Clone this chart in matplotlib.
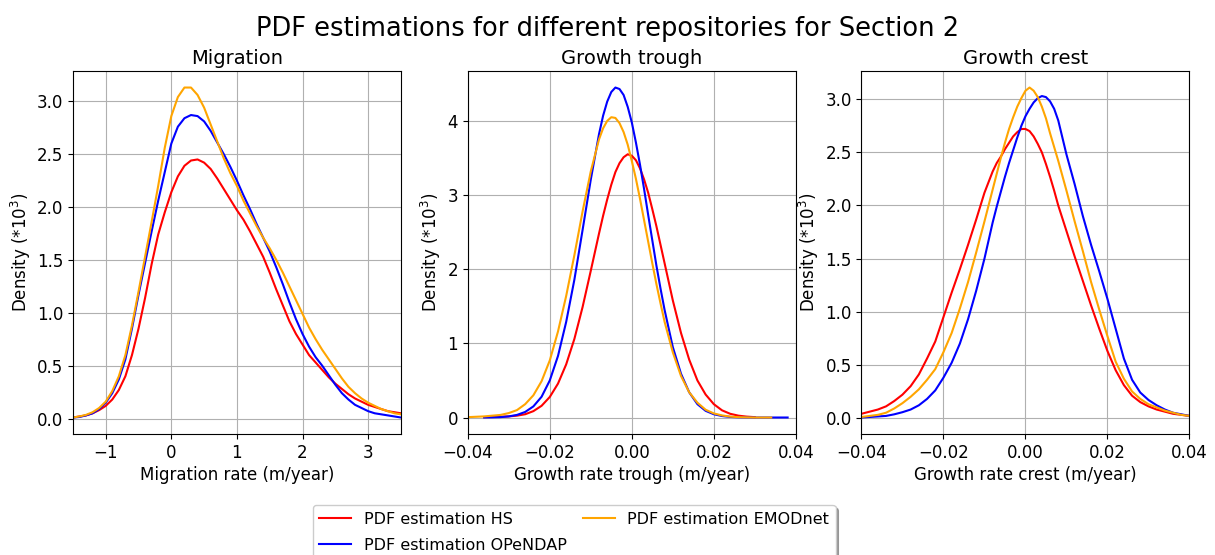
import numpy as np
import matplotlib
matplotlib.use('Agg')
import matplotlib.pyplot as plt

nan = np.nan

# Migration panel (m/year), sampled every 0.1
mig_x = np.round(np.arange(-1.5, 3.51, 0.1), 2)
mig_hs = [0.01, 0.02, 0.03, 0.05, 0.08, 0.12, 0.18, 0.27, 0.4, 0.6,
          0.85, 1.14, 1.46, 1.74, 1.95, 2.14, 2.29, 2.39, 2.44, 2.45,
          2.42, 2.36, 2.27, 2.17, 2.07, 1.97, 1.88, 1.77, 1.65, 1.53,
          1.38, 1.22, 1.07, 0.92, 0.8, 0.7, 0.6, 0.53, 0.46, 0.39,
          0.33, 0.28, 0.23, 0.19, 0.16, 0.13, 0.11, 0.09, 0.07, 0.06, 0.05]
mig_opendap = [0.01, 0.015, 0.03, 0.05, 0.09, 0.15, 0.24, 0.37, 0.56, 0.85,
               1.17, 1.47, 1.77, 2.06, 2.33, 2.6, 2.76, 2.84, 2.87, 2.86,
               2.81, 2.72, 2.61, 2.5, 2.38, 2.25, 2.11, 1.98, 1.84, 1.71,
               1.58, 1.43, 1.27, 1.1, 0.94, 0.8, 0.68, 0.58, 0.5, 0.41,
               0.32, 0.24, 0.18, 0.13, 0.1, 0.07, 0.05, 0.04, 0.03, 0.02, 0.01]
mig_emod = [0.01, 0.02, 0.035, 0.06, 0.1, 0.16, 0.26, 0.4, 0.6, 0.88,
            1.2, 1.53, 1.86, 2.2, 2.56, 2.86, 3.04, 3.13, 3.13, 3.06,
            2.94, 2.78, 2.62, 2.46, 2.32, 2.2, 2.06, 1.94, 1.82, 1.71,
            1.61, 1.5, 1.38, 1.25, 1.12, 0.99, 0.86, 0.75, 0.65, 0.56,
            0.47, 0.38, 0.3, 0.24, 0.19, 0.15, 0.12, 0.09, 0.07, 0.05, 0.04]

# Growth panels (m/year): every 0.002 on the tails, every 0.001 around the peaks
gr_x = np.round(np.concatenate([np.arange(-0.040, -0.0099, 0.002),
                                np.arange(-0.008, 0.0081, 0.001),
                                np.arange(0.010, 0.0401, 0.002)]), 3)

tr_hs = [nan, nan, 0.005, 0.007, 0.01, 0.015, 0.025, 0.044, 0.086, 0.158,
         0.277, 0.457, 0.717, 1.06, 1.49, 1.98,
         2.48, 2.72, 2.94, 3.14, 3.31, 3.43, 3.51, 3.55, 3.53, 3.47,
         3.36, 3.21, 3.03, 2.81, 2.58, 2.33, 2.08,
         1.58, 1.14, 0.78, 0.5, 0.31, 0.18, 0.097, 0.05, 0.025, 0.012,
         0.005, nan, nan, nan, nan, nan]
tr_opendap = [nan, nan, 0.001, 0.002, 0.005, 0.015, 0.035, 0.075, 0.15, 0.28,
              0.5, 0.83, 1.29, 1.86, 2.53, 3.21,
              3.82, 4.07, 4.26, 4.39, 4.45, 4.43, 4.35, 4.19, 3.98, 3.71,
              3.41, 3.08, 2.73, 2.39, 2.05, 1.74, 1.45,
              0.95, 0.59, 0.34, 0.18, 0.09, 0.044, 0.02, 0.008, 0.003, 0.001,
              0.0, 0.0, 0.0, 0.0, 0.0, nan]
tr_emod = [0.005, 0.01, 0.015, 0.025, 0.035, 0.06, 0.1, 0.18, 0.3, 0.49,
           0.77, 1.16, 1.64, 2.19, 2.78, 3.32,
           3.75, 3.9, 4.0, 4.05, 4.04, 3.97, 3.85, 3.68, 3.46, 3.22,
           2.95, 2.66, 2.37, 2.08, 1.8, 1.54, 1.29,
           0.88, 0.56, 0.34, 0.2, 0.105, 0.055, 0.028, 0.012, 0.005, 0.002,
           0.0, 0.0, 0.0, nan, nan, nan]

cr_hs = [0.04, 0.06, 0.08, 0.11, 0.16, 0.22, 0.3, 0.41, 0.56, 0.72,
         0.95, 1.18, 1.4, 1.63, 1.87, 2.12,
         2.32, 2.4, 2.46, 2.53, 2.59, 2.65, 2.69, 2.72, 2.72, 2.7,
         2.65, 2.58, 2.5, 2.39, 2.27, 2.14, 2.0,
         1.76, 1.52, 1.29, 1.06, 0.84, 0.63, 0.45, 0.31, 0.21, 0.15,
         0.11, 0.08, 0.06, 0.04, 0.03, 0.02]
cr_opendap = [0.005, 0.01, 0.015, 0.02, 0.035, 0.055, 0.08, 0.12, 0.18, 0.26,
              0.38, 0.52, 0.7, 0.93, 1.2, 1.5,
              1.84, 1.99, 2.13, 2.27, 2.4, 2.52, 2.64, 2.75, 2.84, 2.91,
              2.97, 3.01, 3.03, 3.02, 2.98, 2.91, 2.8,
              2.48, 2.2, 1.9, 1.63, 1.38, 1.12, 0.84, 0.56, 0.36, 0.24,
              0.17, 0.12, 0.08, 0.05, 0.035, 0.02]
cr_emod = [0.01, 0.02, 0.03, 0.05, 0.09, 0.14, 0.2, 0.27, 0.36, 0.46,
           0.62, 0.8, 1.03, 1.28, 1.56, 1.85,
           2.15, 2.3, 2.45, 2.59, 2.72, 2.83, 2.93, 3.01, 3.08, 3.11,
           3.08, 3.02, 2.93, 2.82, 2.68, 2.55, 2.42,
           2.14, 1.85, 1.57, 1.28, 1.02, 0.77, 0.53, 0.37, 0.25, 0.18,
           0.13, 0.1, 0.07, 0.05, 0.03, 0.02]

labels = ['PDF estimation HS', 'PDF estimation OPeNDAP', 'PDF estimation EMODnet']
colors = ['red', 'blue', 'orange']

panels = [
    ('Migration', 'Migration rate (m/year)', mig_x, [mig_hs, mig_opendap, mig_emod],
     (-1.5, 3.5), [-1, 0, 1, 2, 3]),
    ('Growth trough', 'Growth rate trough (m/year)', gr_x, [tr_hs, tr_opendap, tr_emod],
     (-0.04, 0.04), [-0.04, -0.02, 0.0, 0.02, 0.04]),
    ('Growth crest', 'Growth rate crest (m/year)', gr_x, [cr_hs, cr_opendap, cr_emod],
     (-0.04, 0.04), [-0.04, -0.02, 0.0, 0.02, 0.04]),
]

fig = plt.figure(figsize=(12.15, 5.55), dpi=100)
lefts = [0.060, 0.385, 0.709]

for left, (title, xlabel, x, series, xlim, xticks) in zip(lefts, panels):
    ax = fig.add_axes([left, 0.218, 0.270, 0.654])
    for y, c, lab in zip(series, colors, labels):
        ax.plot(x, y, color=c, lw=1.5, label=lab)
    ax.set_xlim(*xlim)
    ax.set_xticks(xticks)
    ax.grid(True)
    ax.set_title(title, fontsize=14, pad=5)
    ax.set_xlabel(xlabel, fontsize=12, labelpad=3)
    ax.set_ylabel('Density (*10$^3$)', fontsize=12, labelpad=3)
    ax.tick_params(labelsize=12)

fig.text(0.5, 0.948, 'PDF estimations for different repositories for Section 2',
         fontsize=18.5, ha='center', va='center')

handles, labs = ax.get_legend_handles_labels()
fig.legend(handles, labs, loc='upper center', bbox_to_anchor=(0.4725, 0.104),
           ncol=2, fontsize=11.5, columnspacing=1.0, labelspacing=0.7, shadow=True)

fig.savefig('out.png', dpi=100)
